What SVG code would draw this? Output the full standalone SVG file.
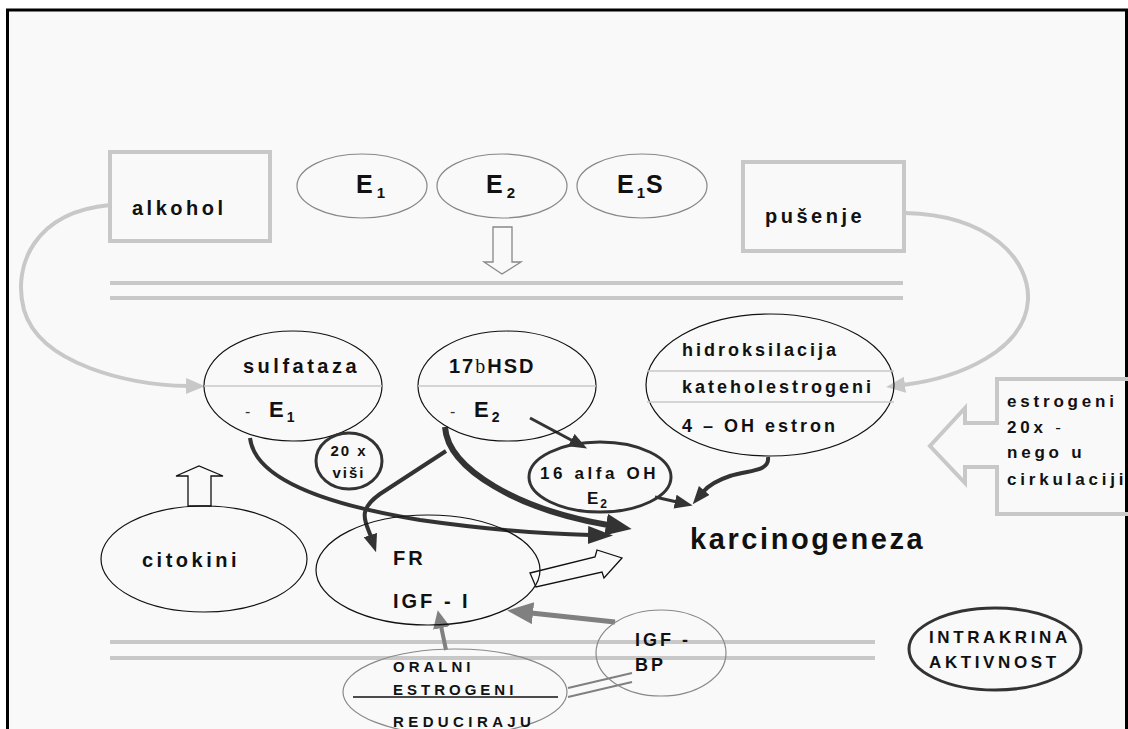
<svg xmlns="http://www.w3.org/2000/svg" width="1128" height="729" viewBox="0 0 1128 729">
<defs>
<style>
.t{font-family:"Liberation Sans",Arial,sans-serif;font-weight:bold;fill:#111}
.ls{letter-spacing:3.5px}
.mem{stroke:#c8c8c8;stroke-width:4;fill:none}
.box{stroke:#c8c8c8;stroke-width:4;fill:none}
.eg{fill:none;stroke:#888;stroke-width:1.2}
.ek{fill:none;stroke:#111;stroke-width:1.2}
.ed{fill:none;stroke:#333;stroke-width:3}
.div{stroke:#c8c8c8;stroke-width:1.5}
.dk{fill:none;stroke:#333}
.lg{fill:none;stroke:#c8c8c8;stroke-width:4}
.mg{fill:none;stroke:#808080}
.hol{fill:#f9f9f9;stroke:#111;stroke-width:1.3}
</style>
<marker id="hd" markerUnits="userSpaceOnUse" markerWidth="30" markerHeight="30" refX="2" refY="9" orient="auto" viewBox="0 0 30 30"><path d="M0,0 L25,9 L0,18 z" fill="#333"/></marker>
<marker id="hdb" markerUnits="userSpaceOnUse" markerWidth="30" markerHeight="30" refX="2" refY="11" orient="auto" viewBox="0 0 30 30"><path d="M0,0 L26,11 L0,22 z" fill="#333"/></marker>
<marker id="hds" markerUnits="userSpaceOnUse" markerWidth="30" markerHeight="30" refX="2" refY="7" orient="auto" viewBox="0 0 30 30"><path d="M0,0 L18,7 L0,14 z" fill="#333"/></marker>
<marker id="hl" markerUnits="userSpaceOnUse" markerWidth="30" markerHeight="30" refX="2" refY="8" orient="auto" viewBox="0 0 30 30"><path d="M0,0 L19,8 L0,16 z" fill="#c8c8c8"/></marker>
<marker id="hm" markerUnits="userSpaceOnUse" markerWidth="30" markerHeight="30" refX="2" refY="11" orient="auto" viewBox="0 0 30 30"><path d="M0,0 L26,11 L0,22 z" fill="#808080"/></marker>
<marker id="hms" markerUnits="userSpaceOnUse" markerWidth="30" markerHeight="30" refX="2" refY="8.5" orient="auto" viewBox="0 0 30 30"><path d="M0,0 L18,8.5 L0,17 z" fill="#808080"/></marker>
</defs>
<rect x="0" y="0" width="1128" height="729" fill="#fff"/>
<rect x="7.5" y="10" width="1119" height="740" fill="#f9f9f9" stroke="#000" stroke-width="3"/>

<g id="membranes">
<line class="mem" x1="110" y1="283" x2="903" y2="283"/>
<line class="mem" x1="110" y1="298" x2="903" y2="298"/>
<line class="mem" x1="110" y1="642" x2="875" y2="642"/>
<line class="mem" x1="110" y1="658" x2="875" y2="658"/>
</g>

<g id="connectors">
<path class="lg" d="M110,205 C35,212 12,265 24,310 C40,365 130,385 188,386" marker-end="url(#hl)"/>
<path class="lg" d="M905,213 C990,215 1030,260 1028,300 C1025,350 960,378 903,385" marker-end="url(#hl)"/>
<path class="dk" stroke-width="4" d="M250,438 C255,480 330,505 420,520 C490,530 550,534 590,535" marker-end="url(#hd)"/>
<path class="dk" stroke-width="6" d="M445,427 C448,470 520,510 608,525" marker-end="url(#hdb)"/>
<path class="dk" stroke-width="4" d="M446,451 L380,494 C356,511 366,522 371,537" marker-end="url(#hds)"/>
<path class="dk" stroke-width="3" d="M530,418 L573,441" marker-end="url(#hds)"/>
<path class="dk" stroke-width="3" d="M655,497 L677,502" marker-end="url(#hds)"/>
<path class="dk" stroke-width="4" d="M768,457 C770,472 748,470 730,476 C715,481 708,486 703,492" marker-end="url(#hds)"/>
<path class="mg" stroke-width="5" d="M615,622 L531,613" marker-end="url(#hm)"/>
<path class="mg" stroke-width="4" d="M446,650 L441,626" marker-end="url(#hms)"/>
<line class="mg" stroke-width="2" x1="568" y1="688" x2="632" y2="673"/>
<line class="mg" stroke-width="2" x1="568" y1="697" x2="632" y2="682"/>
<polygon fill="#f9f9f9" stroke="#888" stroke-width="1.3" points="493,227 512,227 512,262 521,262 502,274 484,262 493,262"/>
<polygon class="hol" points="188,506 188,476 176,476 199,466 223,476 211,476 211,506"/>
<polygon class="hol" points="530,573 595,557 597,550 622,558 604,578 602,572 536,587"/>
</g>

<g id="alkohol">
<rect class="box" x="110" y="152" width="160" height="89"/>
<text class="t ls" x="132" y="215" font-size="20">alkohol</text>
</g>
<g id="pusenje">
<rect class="box" x="743" y="162" width="161" height="89"/>
<text class="t ls" x="765" y="223" font-size="20">pušenje</text>
</g>

<g id="E1">
<ellipse class="eg" cx="362" cy="186" rx="65" ry="32"/>
<text class="t" x="356" y="193" font-size="25">E<tspan font-size="15" dx="4" dy="5">1</tspan></text>
</g>
<g id="E2">
<ellipse class="eg" cx="502" cy="186" rx="65" ry="32"/>
<text class="t" x="486" y="193" font-size="25">E<tspan font-size="15" dx="4" dy="5">2</tspan></text>
</g>
<g id="E1S">
<ellipse class="eg" cx="642" cy="186" rx="65" ry="32"/>
<text class="t" x="617" y="193" font-size="25">E<tspan font-size="15" dx="3" dy="5">1</tspan><tspan dx="1" dy="-5">S</tspan></text>
</g>

<g id="sulfataza">
<ellipse class="ek" cx="293" cy="386" rx="89" ry="55"/>
<line class="div" x1="204" y1="386" x2="382" y2="386"/>
<text class="t ls" x="243" y="373" font-size="20">sulfataza</text>
<text x="245" y="417" font-family="Liberation Sans,Arial,sans-serif" font-size="16" fill="#333">-</text>
<text class="t" x="269" y="417" font-size="22">E<tspan font-size="14" dx="3" dy="5">1</tspan></text>
</g>
<g id="hsd">
<ellipse class="ek" cx="507" cy="386" rx="89" ry="55"/>
<line class="div" x1="418" y1="386" x2="596" y2="386"/>
<text class="t" x="449" y="373" font-size="20" letter-spacing="2">17<tspan font-family="Liberation Serif,serif" font-weight="normal">b</tspan>HSD</text>
<text x="450" y="417" font-family="Liberation Sans,Arial,sans-serif" font-size="16" fill="#333">-</text>
<text class="t" x="474" y="417" font-size="22">E<tspan font-size="14" dx="3" dy="5">2</tspan></text>
</g>
<g id="hidroksilacija">
<ellipse class="ek" cx="770" cy="385" rx="124" ry="71"/>
<line class="div" x1="647" y1="371" x2="894" y2="371"/>
<line class="div" x1="647" y1="402" x2="894" y2="402"/>
<text class="t" x="682" y="356" font-size="18" letter-spacing="3">hidroksilacija</text>
<text class="t" x="682" y="393" font-size="18" letter-spacing="3">kateholestrogeni</text>
<text class="t" x="682" y="432" font-size="18" letter-spacing="3">4 – OH estron</text>
</g>
<g id="estrogeni">
<polygon class="box" points="1130,379 997,379 997,423 965,423 965,408 930,446 965,483 965,467 997,467 997,514 1130,514"/>
<text class="t" font-size="17" letter-spacing="3.8"><tspan x="1007" y="407">estrogeni</tspan><tspan x="1007" y="433">20x <tspan font-weight="normal">-</tspan></tspan><tspan x="1007" y="458">nego u</tspan><tspan x="1007" y="485">cirkulaciji</tspan></text>
</g>
<g id="visi">
<ellipse class="ed" cx="349" cy="461" rx="33" ry="28"/>
<text class="t" x="349" y="456" font-size="15" text-anchor="middle" letter-spacing="2">20 x</text>
<text class="t" x="349" y="478" font-size="15" text-anchor="middle" letter-spacing="2">viši</text>
</g>
<g id="alfa">
<ellipse class="ed" cx="600" cy="477" rx="71" ry="35"/>
<text class="t" x="540" y="479" font-size="17" letter-spacing="3.6">16 alfa OH</text>
<text class="t" x="587" y="504" font-size="17">E<tspan font-size="12" dx="2" dy="4">2</tspan></text>
</g>
<g id="karcinogeneza">
<text class="t" x="690" y="549" font-size="29" letter-spacing="2.6">karcinogeneza</text>
</g>
<g id="citokini">
<ellipse class="ek" cx="204" cy="559" rx="103" ry="53"/>
<text class="t ls" x="142" y="567" font-size="20">citokini</text>
</g>
<g id="fr">
<ellipse class="ek" cx="428" cy="570" rx="112" ry="55"/>
<text class="t" x="393" y="565" font-size="20" letter-spacing="3">FR</text>
<text class="t" x="393" y="608" font-size="20" letter-spacing="3">IGF - I</text>
</g>
<g id="igfbp">
<ellipse class="eg" cx="661" cy="653" rx="65" ry="43"/>
<text class="t" x="635" y="646" font-size="18" letter-spacing="3">IGF -</text>
<text class="t" x="635" y="671" font-size="18" letter-spacing="3">BP</text>
</g>
<g id="oralni">
<ellipse class="eg" cx="455" cy="692" rx="112" ry="43"/>
<line x1="353" y1="697" x2="558" y2="697" stroke="#111" stroke-width="1.3"/>
<text class="t" x="393" y="672" font-size="15" letter-spacing="4">ORALNI</text>
<text class="t" x="393" y="695" font-size="15" letter-spacing="4">ESTROGENI</text>
<text class="t" x="393" y="727" font-size="15" letter-spacing="4.4">REDUCIRAJU</text>
</g>
<g id="intrakrina">
<ellipse class="ed" cx="995" cy="649" rx="86" ry="41"/>
<text class="t" x="929" y="643" font-size="17" letter-spacing="3.6">INTRAKRINA</text>
<text class="t" x="929" y="668" font-size="17" letter-spacing="3.6">AKTIVNOST</text>
</g>
</svg>
